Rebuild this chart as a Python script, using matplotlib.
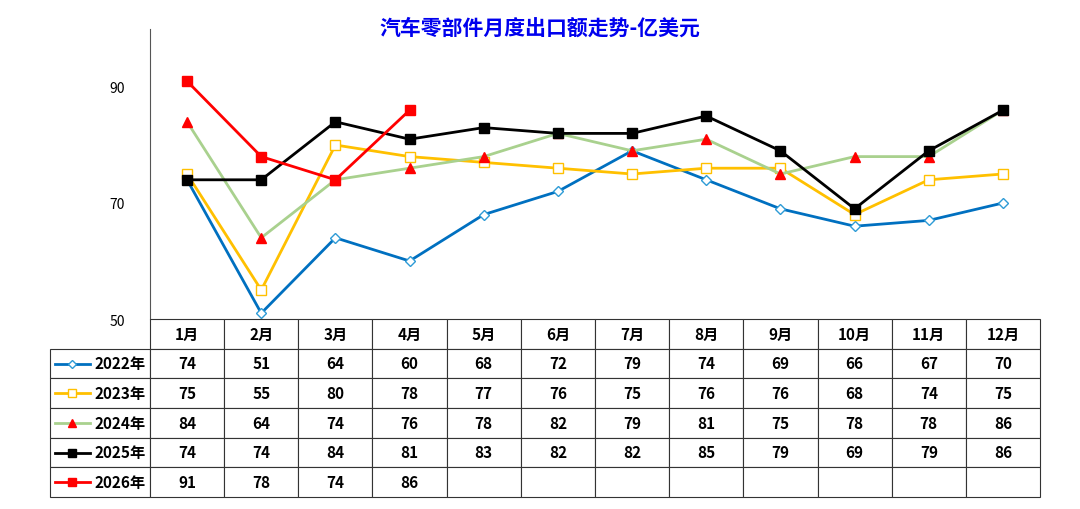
import matplotlib
matplotlib.use("Agg")
import matplotlib.pyplot as plt

plt.rcParams['font.family'] = ['Noto Sans CJK SC', 'DejaVu Sans']

months = ["1月","2月","3月","4月","5月","6月","7月","8月","9月","10月","11月","12月"]
y2022 = [74,51,64,60,68,72,79,74,69,66,67,70]
y2023 = [75,55,80,78,77,76,75,76,76,68,74,75]
y2024 = [84,64,74,76,78,82,79,81,75,78,78,86]
y2025 = [74,74,84,81,83,82,82,85,79,69,79,86]
y2026 = [91,78,74,86]
labels = ["2022年","2023年","2024年","2025年","2026年"]

fig = plt.figure(figsize=(10.8,5.1), dpi=100)
L, R, T, B = 150, 1040, 30, 320
ax = fig.add_axes([L/1080, 1-B/510, (R-L)/1080, (B-T)/510])
ax.set_xlim(0,12); ax.set_ylim(50,100)
for s in ['top','right','bottom']:
    ax.spines[s].set_visible(False)
ax.spines['left'].set_color('#555555')
ax.set_xticks([]); ax.set_yticks([50,70,90])
ax.tick_params(axis='y', length=0, labelsize=10, pad=18)

xs = [i+0.5 for i in range(12)]
styles = [
    dict(color='#0070C0', marker='D', mfc='white', mec='#2E9BD6', ms=5, lw=2),
    dict(color='#FFC000', marker='s', mfc='white', mec='#FFC000', ms=7, lw=2),
    dict(color='#A9D18E', marker='^', mfc='red', mec='red', ms=7, lw=2),
    dict(color='black', marker='s', mfc='black', mec='black', ms=7, lw=2),
    dict(color='red', marker='s', mfc='red', mec='red', ms=7, lw=2),
]
series = [y2022,y2023,y2024,y2025,y2026]
for ys, st in zip(series, styles):
    ax.plot(xs[:len(ys)], ys, clip_on=False, **st)

fig.text(0.5, 1-28/510, "汽车零部件月度出口额走势-亿美元", color='#0000EE', fontsize=15,
         fontweight='bold', style='italic', ha='center', va='center')

# table
tax = fig.add_axes([50/1080, 1-498/510, (R-50)/1080, 178/510])
tax.axis('off')
cells = [[""]+months]
for lab, ys in zip(labels, series):
    cells.append([lab] + [str(v) for v in ys] + [""]*(12-len(ys)))
colw = [100/990] + [890/990/12]*12
tbl = tax.table(cellText=cells, colWidths=colw, bbox=[0,0,1,1], cellLoc='center')
tbl.auto_set_font_size(False)
for (r,c), cell in tbl.get_celld().items():
    cell.set_edgecolor('#333333'); cell.set_linewidth(0.8)
    cell.get_text().set_fontsize(11)
    cell.get_text().set_fontweight('bold')
    if r == 0 and c == 0:
        cell.visible_edges = ''
    if c == 0 and r > 0:
        cell.get_text().set_ha('right')
        cell._loc = 'right'
        cell.PAD = 0.04
h = 1/6
for i, st in enumerate(styles):
    yc = 1 - h*(i+1.5)
    tax.plot([0.005, 0.04], [yc, yc], color=st['color'], lw=2, transform=tax.transAxes, clip_on=False)
    tax.plot([0.0225], [yc], marker=st['marker'], mfc=st['mfc'], mec=st['mec'], ms=st['ms']-1,
             transform=tax.transAxes, clip_on=False, ls='none')

fig.savefig("out.png", dpi=100)
